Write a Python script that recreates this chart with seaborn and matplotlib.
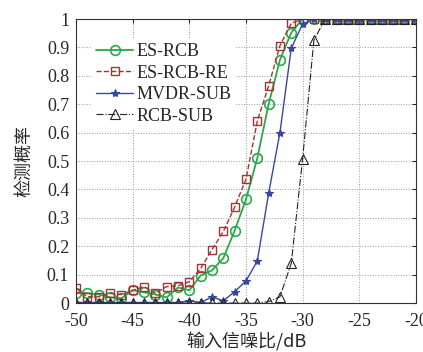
import numpy as np
import pandas as pd
import matplotlib
matplotlib.use("Agg")
import matplotlib.pyplot as plt
import seaborn as sns

snr = list(range(-50, -19))
es_rcb = [0.035, 0.035, 0.03, 0.02, 0.017, 0.045, 0.038, 0.03, 0.02, 0.055, 0.045, 0.097, 0.115, 0.158, 0.255, 0.365, 0.51, 0.70, 0.856, 0.952,
          1, 1, 1, 1, 1, 1, 1, 1, 1, 1, 1]
es_rcb_re = [0.052, 0.022, 0.022, 0.034, 0.03, 0.045, 0.058, 0.035, 0.058, 0.061, 0.075, 0.122, 0.188, 0.252, 0.338, 0.436, 0.641, 0.764, 0.906, 0.985,
             1, 1, 1, 1, 1, 1, 1, 1, 1, 1, 1]
mvdr_sub = [0.002, 0.002, 0.002, 0.002, 0.002, 0.002, 0.002, 0.002, 0.002, 0.002, 0.008, 0.002, 0.022, 0.008, 0.04, 0.078, 0.148, 0.386, 0.60, 0.897,
            0.982, 1, 1, 1, 1, 1, 1, 1, 1, 1, 1]
rcb_sub = [0, 0, 0, 0, 0, 0, 0, 0, 0, 0, 0, 0, 0, 0, 0, 0, 0, 0.005, 0.022, 0.14,
           0.507, 0.926, 1, 1, 1, 1, 1, 1, 1, 1, 1]
names = ["ES-RCB", "ES-RCB-RE", "MVDR-SUB", "RCB-SUB"]
xticks = [-50, -45, -40, -35, -30, -25, -20]
xticklabels = ["-50", "-45", "-40", "-35", "-30", "-25", "-20"]
yticks = [0, 0.1, 0.2, 0.3, 0.4, 0.5, 0.6, 0.7, 0.8, 0.9, 1]
yticklabels = ["0", "0.1", "0.2", "0.3", "0.4", "0.5", "0.6", "0.7", "0.8", "0.9", "1"]

sns.set_style("white")
plt.rcParams['font.family'] = ['Liberation Serif', 'Noto Sans CJK SC']
plt.rcParams['axes.unicode_minus'] = False

fig = plt.figure(figsize=(4.23, 3.52), dpi=100)
ax = fig.add_axes([0.18, 0.139, 0.803, 0.807])

styles = [
    dict(color="#2aa84a", marker="o", linestyle="-", mfc="none", ms=7, mew=1.2, lw=1.3),
    dict(color="#a03535", marker="s", linestyle="--", mfc="none", ms=6, mew=1.0, lw=1.0),
    dict(color="#3848a0", marker="*", linestyle="-", mfc="#3848a0", ms=6, mew=0.8, lw=1.0),
    dict(color="#222222", marker="^", linestyle="-.", mfc="none", ms=6.5, mew=0.8, lw=0.8),
]
series = [es_rcb, es_rcb_re, mvdr_sub, rcb_sub]
for name, vals, st in zip(names, series, styles):
    df = pd.DataFrame({"snr": snr, "p": vals})
    sns.lineplot(data=df, x="snr", y="p", ax=ax, label=name,
                 color=st["color"], marker=st["marker"], linestyle=st["linestyle"],
                 markerfacecolor=st["mfc"], markeredgecolor=st["color"],
                 markersize=st["ms"], markeredgewidth=st["mew"], linewidth=st["lw"])

ax.set_xlim(-50, -20)
ax.set_ylim(0, 1)
ax.set_xticks(xticks)
ax.set_xticklabels(xticklabels)
ax.set_yticks(yticks)
ax.set_yticklabels(yticklabels)
ax.tick_params(direction="in", labelsize=13, length=3, top=True, right=True)
ax.tick_params(axis="x", pad=7)
ax.tick_params(axis="y", pad=5)
ax.grid(True, linestyle=":", color="#999999", linewidth=0.7)
for sp in ax.spines.values():
    sp.set_color("#333333")
    sp.set_linewidth(0.8)
ax.set_xlabel("输入信噪比/dB", fontsize=13, family=['Noto Sans CJK SC'], labelpad=2)
ax.set_ylabel("检测概率", fontsize=13, family=['Noto Sans CJK SC'], labelpad=10)

leg = ax.legend(loc="upper left", bbox_to_anchor=(0.02, 0.96), frameon=True, fontsize=13,
                handlelength=2.1, borderpad=0.2, labelspacing=0.25, handletextpad=0.15)
leg.get_frame().set_edgecolor("white")
leg.get_frame().set_facecolor("white")
leg.get_frame().set_alpha(1)

fig.savefig("out.png", dpi=100)
